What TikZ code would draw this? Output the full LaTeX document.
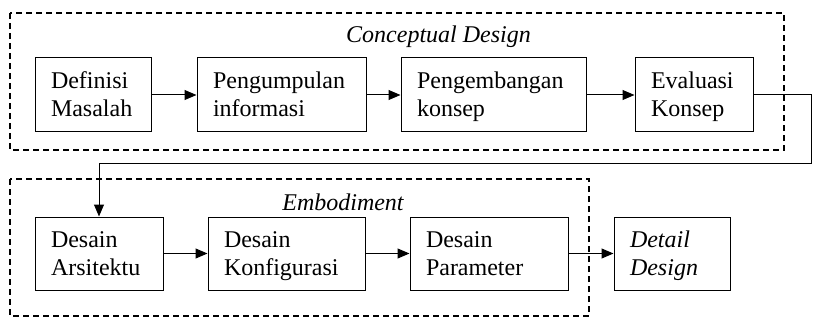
\documentclass[tikz,border=0pt]{standalone}
\usepackage{fontspec}
\setmainfont{Liberation Serif}
\usetikzlibrary{arrows.meta}
% struts that set the two-line labels a little below the box centre
\newcommand\firstline{\rule{0pt}{24pt}}
\newcommand\lastline{\rule[-8.4pt]{0pt}{8.4pt}}
\begin{document}
\begin{tikzpicture}[x=1pt,y=-1pt,
  stepbox/.style={draw, line width=1pt, rectangle, align=left,
    inner xsep=16pt, inner ysep=0pt, font=\fontsize{24}{28}\selectfont},
  flow/.style={line width=1pt, -{Triangle[length=12pt,width=10pt]}},
  phase/.style={line width=1.2pt, dash pattern=on 6pt off 4pt},
  phaselabel/.style={font=\fontsize{24}{28}\selectfont\itshape, anchor=base, inner sep=0pt}]
\useasboundingbox (0,0) rectangle (837,323);

% phase frames
\draw[phase] (10,13) rectangle (784,150);
\draw[phase] (10,179) rectangle (589,316);
\node[phaselabel] (lblc) at (438.5,43) {Conceptual Design};
\node[phaselabel] (lble) at (343,210) {Embodiment};

% conceptual design steps
\node[stepbox, text width=84pt,  minimum height=74pt] (a) at (93,95)    {\firstline Definisi\\Masalah\lastline};
\node[stepbox, text width=137pt, minimum height=74pt] (b) at (281.5,95) {\firstline Pengumpulan\\informasi\lastline};
\node[stepbox, text width=153pt, minimum height=74pt] (c) at (493.5,95) {\firstline Pengembangan\\konsep\lastline};
\node[stepbox, text width=86pt,  minimum height=74pt] (d) at (694,95)   {\firstline Evaluasi\\Konsep\lastline};

% embodiment steps
\node[stepbox, text width=96pt,  minimum height=73pt] (e) at (99,253.5)    {\firstline Desain\\Arsitektu\lastline};
\node[stepbox, text width=125pt, minimum height=73pt] (f) at (286.5,253.5) {\firstline Desain\\Konfigurasi\lastline};
\node[stepbox, text width=126pt, minimum height=73pt] (g) at (489,253.5)   {\firstline Desain\\Parameter\lastline};
\node[stepbox, text width=84pt,  minimum height=73pt] (h) at (672,253.5)   {\itshape\firstline Detail\\Design\lastline};

% connectors
\draw[flow] (a) -- (b);
\draw[flow] (b) -- (c);
\draw[flow] (c) -- (d);
\coordinate (turn) at (811,164);
\draw[flow] (d.east) -| (turn) -| (e.north);
\draw[flow] (e) -- (f);
\draw[flow] (f) -- (g);
\draw[flow] (g) -- (h);
\end{tikzpicture}
\end{document}
